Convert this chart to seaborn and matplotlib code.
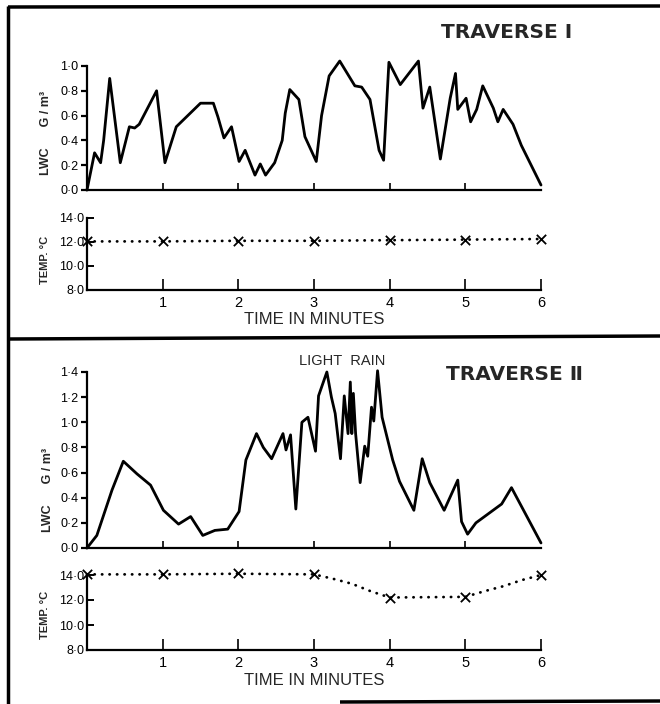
import matplotlib
matplotlib.use("Agg")
import matplotlib.pyplot as plt
from matplotlib.lines import Line2D
import seaborn as sns

# ---- Traverse I : liquid water content (g/m3) vs time (minutes) ----
t1_time = [0.00, 0.10, 0.18, 0.22, 0.30, 0.44, 0.56, 0.63, 0.69, 0.92,
           1.03, 1.18, 1.50, 1.67, 1.73, 1.81, 1.91, 2.01, 2.09, 2.22,
           2.29, 2.36, 2.48, 2.58, 2.62, 2.68, 2.80, 2.88, 3.03, 3.10,
           3.20, 3.34, 3.54, 3.63, 3.74, 3.86, 3.92, 3.99, 4.14, 4.38,
           4.44, 4.53, 4.67, 4.80, 4.87, 4.90, 5.01, 5.07, 5.15, 5.23,
           5.37, 5.43, 5.50, 5.63, 5.74, 6.00]
t1_lwc = [0.00, 0.30, 0.22, 0.40, 0.90, 0.22, 0.51, 0.50, 0.53, 0.80,
          0.22, 0.51, 0.70, 0.70, 0.59, 0.42, 0.51, 0.23, 0.32, 0.12,
          0.21, 0.12, 0.22, 0.40, 0.62, 0.81, 0.73, 0.43, 0.23, 0.60,
          0.92, 1.04, 0.84, 0.83, 0.73, 0.32, 0.24, 1.03, 0.85, 1.04,
          0.66, 0.83, 0.25, 0.74, 0.94, 0.65, 0.74, 0.55, 0.65, 0.84,
          0.66, 0.55, 0.65, 0.53, 0.36, 0.04]

# ---- Traverse I : temperature (deg C) ----
t1_temp_time = [0, 1, 2, 3, 4, 5, 6]
t1_temp = [12.05, 12.05, 12.1, 12.1, 12.15, 12.2, 12.25]

# ---- Traverse II : liquid water content (g/m3) vs time (minutes) ----
t2_time = [0.00, 0.13, 0.33, 0.48, 0.66, 0.84, 1.01, 1.21, 1.37, 1.53,
           1.69, 1.86, 2.01, 2.10, 2.24, 2.33, 2.44, 2.59, 2.63, 2.69,
           2.76, 2.84, 2.92, 3.02, 3.06, 3.17, 3.23, 3.28, 3.35, 3.40,
           3.45, 3.48, 3.50, 3.52, 3.55, 3.61, 3.67, 3.71, 3.76, 3.79,
           3.84, 3.90, 4.04, 4.13, 4.32, 4.43, 4.53, 4.72, 4.90, 4.95,
           5.03, 5.14, 5.48, 5.61, 6.00]
t2_lwc = [0.00, 0.10, 0.46, 0.69, 0.59, 0.50, 0.30, 0.19, 0.25, 0.10,
          0.14, 0.15, 0.29, 0.70, 0.91, 0.80, 0.71, 0.91, 0.78, 0.90,
          0.31, 1.00, 1.04, 0.77, 1.21, 1.40, 1.20, 1.07, 0.71, 1.21,
          0.91, 1.32, 0.91, 1.23, 0.91, 0.52, 0.81, 0.73, 1.12, 1.01,
          1.41, 1.04, 0.70, 0.53, 0.30, 0.71, 0.52, 0.30, 0.54, 0.21,
          0.11, 0.20, 0.35, 0.48, 0.04]

# ---- Traverse II : temperature trace and the crossed minute readings ----
t2_trace_time = [0, 1, 2, 3, 3.25, 3.5, 3.75, 4, 5, 5.25, 5.5, 5.75, 6]
t2_trace_temp = [14.05, 14.05, 14.1, 14.05, 13.7, 13.3, 12.7, 12.2,
                 12.25, 12.7, 13.1, 13.6, 14.0]
t2_temp_time = [0, 1, 2, 3, 4, 5, 6]
t2_temp = [14.05, 14.05, 14.15, 14.05, 12.2, 12.25, 14.0]

# ---- axis ticks and labels ----
minute_ticks = [1, 2, 3, 4, 5, 6]
minute_labels = ["1", "2", "3", "4", "5", "6"]
lwc1_ticks = [0.0, 0.2, 0.4, 0.6, 0.8, 1.0]
lwc1_labels = ["0·0", "0·2", "0·4", "0·6", "0·8", "1·0"]
lwc2_ticks = [0.0, 0.2, 0.4, 0.6, 0.8, 1.0, 1.2, 1.4]
lwc2_labels = ["0·0", "0·2", "0·4", "0·6", "0·8", "1·0", "1·2", "1·4"]
temp_ticks = [8.0, 10.0, 12.0, 14.0]
temp_labels = ["8·0", "10·0", "12·0", "14·0"]

sns.set_theme(style="ticks")
plt.rcParams["font.family"] = ["Liberation Sans", "DejaVu Sans"]
plt.rcParams["axes.edgecolor"] = "black"
plt.rcParams["xtick.color"] = "black"
plt.rcParams["ytick.color"] = "black"

W, H = 660, 704
fig = plt.figure(figsize=(W / 100, H / 100), dpi=100)
fig.patch.set_facecolor("white")


def axes_px(left, top, right, bottom):
    return fig.add_axes([left / W, 1 - bottom / H, (right - left) / W, (bottom - top) / H])


def lwc_panel(ax, t, v, ymax, ticks, labels, label_xy):
    sns.lineplot(x=t, y=v, ax=ax, color="black", linewidth=2.0,
                 estimator=None, sort=False)
    for ln in ax.lines:
        ln.set_clip_on(False)
    ax.set_xlim(0, 6)
    ax.set_ylim(0, ymax)
    sns.despine(ax=ax)
    for s in ("left", "bottom"):
        ax.spines[s].set_linewidth(1.6)
    ax.set_facecolor("none")
    ax.set_xticks([1, 2, 3, 4, 5])
    ax.set_xticklabels([])
    ax.tick_params(axis="x", direction="in", length=5, width=1.2)
    ax.set_yticks(ticks)
    ax.set_yticklabels(labels)
    ax.tick_params(axis="y", direction="out", length=4, width=1.6, pad=2,
                   labelsize=9)
    ax.set_xlabel("")
    ax.set_ylabel("LWC      G / m³", fontsize=9, fontweight="bold")
    ax.yaxis.set_label_coords(*label_xy)


def temp_panel(ax, tt, tv, mt, mv, label_xy):
    sns.lineplot(x=tt, y=tv, ax=ax, color="black", linewidth=2.0,
                 linestyle=(0, (0.1, 2.6)), dash_capstyle="round",
                 estimator=None, sort=False)
    sns.scatterplot(x=mt, y=mv, ax=ax, marker="x", s=45, color="black",
                    linewidth=1.3, zorder=3, clip_on=False)
    for ln in ax.lines:
        ln.set_clip_on(False)
    ax.set_xlim(0, 6)
    ax.set_ylim(8, 14)
    sns.despine(ax=ax)
    for s in ("left", "bottom"):
        ax.spines[s].set_linewidth(1.6)
    ax.set_facecolor("none")
    ax.set_xticks(minute_ticks)
    ax.set_xticklabels(minute_labels)
    ax.tick_params(axis="x", direction="in", length=8, width=1.2, pad=4,
                   labelsize=10.5)
    ax.set_yticks(temp_ticks)
    ax.set_yticklabels(temp_labels)
    ax.tick_params(axis="y", direction="in", length=5, width=1.4, pad=2,
                   labelsize=9)
    ax.set_xlabel("TIME IN MINUTES", fontsize=12)
    ax.xaxis.set_label_coords(0.5, -0.31)
    ax.set_ylabel("TEMP. °C", fontsize=8, fontweight="bold")
    ax.yaxis.set_label_coords(*label_xy)


ax1 = axes_px(87, 66, 541, 190)
lwc_panel(ax1, t1_time, t1_lwc, 1.0, lwc1_ticks, lwc1_labels, (-0.077, 0.46))

ax2 = axes_px(87, 218, 541, 290)
temp_panel(ax2, t1_temp_time, t1_temp, t1_temp_time, t1_temp, (-0.082, 0.42))

ax3 = axes_px(87, 372, 541, 548)
lwc_panel(ax3, t2_time, t2_lwc, 1.4, lwc2_ticks, lwc2_labels, (-0.072, 0.33))

ax4 = axes_px(87, 575, 541, 650)
temp_panel(ax4, t2_trace_time, t2_trace_temp, t2_temp_time, t2_temp, (-0.082, 0.47))

# titles and annotation
fig.text(507 / W, 1 - 32 / H, "TRAVERSE Ⅰ", fontsize=14.5, fontweight="bold",
         family=["DejaVu Sans"], ha="center", va="center")
fig.text(514 / W, 1 - 375 / H, "TRAVERSE Ⅱ", fontsize=14.5, fontweight="bold",
         family=["DejaVu Sans"], ha="center", va="center")
fig.text(342 / W, 1 - 361 / H, "LIGHT  RAIN", fontsize=10.5,
         ha="center", va="center")

# panel frame lines
def frame_line(x0, y0, x1, y1, lw=2.5):
    fig.add_artist(Line2D([x0 / W, x1 / W], [1 - y0 / H, 1 - y1 / H],
                          transform=fig.transFigure, color="black", lw=lw,
                          solid_capstyle="butt"))

frame_line(8, 7, 660, 6)
frame_line(8, 6, 8, 704)
frame_line(8, 339, 660, 336)
frame_line(340, 702, 660, 701)

fig.savefig("out.png", dpi=100, facecolor="white")
